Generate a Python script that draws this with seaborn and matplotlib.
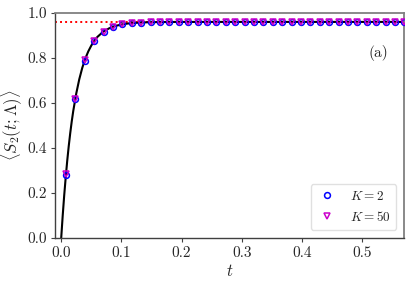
import numpy as np
import matplotlib
matplotlib.use("Agg")
import matplotlib.pyplot as plt
import seaborn as sns
import pandas as pd

# ---- data ----
t_markers = [0.0078, 0.0234, 0.0391, 0.0547, 0.0703, 0.0859, 0.1016, 0.1172,
             0.1328, 0.1484, 0.1641, 0.1797, 0.1953, 0.2109, 0.2266, 0.2422,
             0.2578, 0.2734, 0.2891, 0.3047, 0.3203, 0.3359, 0.3516, 0.3672,
             0.3828, 0.3984, 0.4141, 0.4297, 0.4453, 0.4609, 0.4766, 0.4922,
             0.5078, 0.5234, 0.5391, 0.5547, 0.5703]
s_K2 = [0.280, 0.617, 0.788, 0.874, 0.917, 0.938, 0.949, 0.954,
        0.957, 0.958, 0.959, 0.960, 0.960, 0.960, 0.960, 0.960,
        0.960, 0.960, 0.960, 0.960, 0.960, 0.960, 0.960, 0.960,
        0.960, 0.960, 0.960, 0.960, 0.960, 0.960, 0.960, 0.960,
        0.960, 0.960, 0.960, 0.960, 0.960]
s_K50 = [0.282, 0.618, 0.789, 0.875, 0.917, 0.938, 0.949, 0.954,
         0.957, 0.958, 0.959, 0.960, 0.960, 0.960, 0.960, 0.960,
         0.960, 0.960, 0.960, 0.960, 0.960, 0.960, 0.960, 0.960,
         0.960, 0.960, 0.960, 0.960, 0.960, 0.960, 0.960, 0.960,
         0.960, 0.960, 0.960, 0.960, 0.960]

t_curve = [0.0, 0.0025, 0.005, 0.0075, 0.01, 0.0125, 0.015, 0.0175, 0.02, 0.025,
           0.03, 0.035, 0.04, 0.045, 0.05, 0.055, 0.06, 0.07, 0.08, 0.09, 0.10,
           0.11, 0.12, 0.14, 0.16, 0.20, 0.30, 0.60]
s_curve = [0.0, 0.100, 0.190, 0.270, 0.343, 0.408, 0.466, 0.518, 0.564, 0.642,
           0.705, 0.756, 0.797, 0.829, 0.855, 0.876, 0.893, 0.917, 0.932, 0.942,
           0.9485, 0.9526, 0.9553, 0.9581, 0.9592, 0.9599, 0.960, 0.960]

saturation = 0.96
x_ticks = [0.0, 0.1, 0.2, 0.3, 0.4, 0.5]
y_ticks = [0.0, 0.2, 0.4, 0.6, 0.8, 1.0]

# ---- style ----
sns.set_style("ticks")
plt.rcParams["font.family"] = ["serif"]
plt.rcParams["font.serif"] = ["cmr10", "DejaVu Serif"]
plt.rcParams["mathtext.fontset"] = "cm"
plt.rcParams["axes.formatter.use_mathtext"] = True
plt.rcParams["axes.unicode_minus"] = False

fig = plt.figure(figsize=(4.15, 2.87), dpi=100)
ax = fig.add_axes([0.133, 0.171, 0.841, 0.784])

df_curve = pd.DataFrame({"t": t_curve, "S": s_curve})
df_m = pd.DataFrame({"t": t_markers, "K2": s_K2, "K50": s_K50})

ax.axhline(saturation, color="red", ls=(0, (1, 1.6)), lw=1.4, zorder=1)
sns.lineplot(data=df_curve, x="t", y="S", color="black", lw=1.5, ax=ax,
             zorder=2, sort=False)
ax.plot(df_m["t"], df_m["K2"], ls="none", marker="o", ms=4.2, mfc="none",
        mec="blue", mew=1.1, label=r"$K=2$", zorder=3, clip_on=True)
ax.plot(df_m["t"], df_m["K50"], ls="none", marker="v", ms=4.2, mfc="none",
        mec="#cc00cc", mew=1.1, label=r"$K=50$", zorder=4, clip_on=True)

ax.set_xlim(-0.01, 0.57)
ax.set_ylim(0.0, 1.0)
ax.set_xticks(x_ticks)
ax.set_yticks(y_ticks)
ax.set_xticklabels([f"{v:.1f}" for v in x_ticks])
ax.set_yticklabels([f"{v:.1f}" for v in y_ticks])
ax.tick_params(labelsize=11, length=3, width=0.8, color="0.25", pad=3)

for side in ["left", "bottom"]:
    ax.spines[side].set_color("0.25")
    ax.spines[side].set_linewidth(1.0)
for side in ["top", "right"]:
    ax.spines[side].set_color("0.5")
    ax.spines[side].set_linewidth(1.3)

ax.set_xlabel(r"$t$", fontsize=12, labelpad=2)
ax.set_ylabel(r"$\langle S_2(t;\Lambda)\rangle$", fontsize=12, labelpad=2)
ax.text(0.925, 0.82, "(a)", transform=ax.transAxes, fontsize=11,
        ha="center", va="center")

leg = ax.legend(loc="lower right", fontsize=9.5, frameon=True,
                borderaxespad=0.6, handletextpad=0.9, handlelength=1.6,
                borderpad=0.45, labelspacing=0.55)
leg.get_frame().set_edgecolor("0.85")

fig.savefig("out.png", dpi=100)
